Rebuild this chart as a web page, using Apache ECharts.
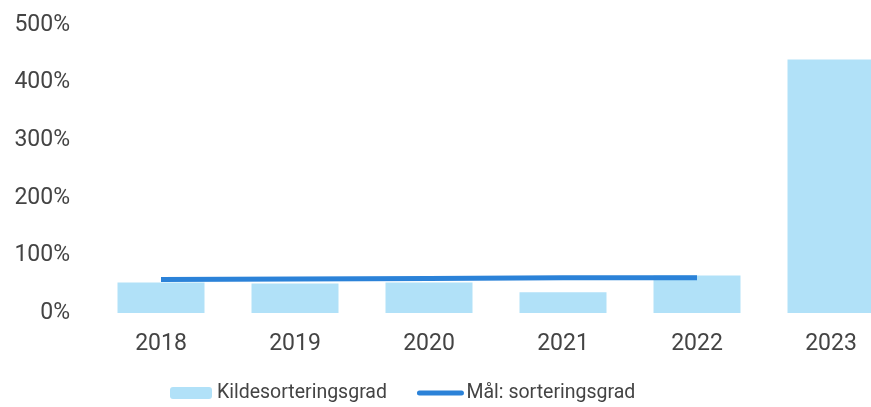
<!DOCTYPE html>
<html>
<head>
<meta charset="utf-8">
<script src="https://cdn.jsdelivr.net/npm/echarts@6/dist/echarts.min.js"></script>
<style>
  html, body { margin: 0; padding: 0; background: #fff; }
  #chart { width: 871px; height: 407px; }
</style>
</head>
<body>
<div id="chart"></div>
<script>
// data
var years = ['2018', '2019', '2020', '2021', '2022', '2023'];
var kildesortering = [53, 51, 53, 36, 65, 440];
var maal = [58, 59, 60, 61, 61, null];
var yTicks = [0, 100, 200, 300, 400, 500];

var chart = echarts.init(document.getElementById('chart'), null, {
  renderer: 'canvas'
});

var option = {
  animation: false,
  textStyle: { fontFamily: 'Roboto' },
  // plot runs past the right edge, the 2023 bar is cut in the original
  grid: {
    top: 25,
    left: 94,
    width: 804,
    bottom: 94,
    outerBoundsMode: 'none'
  },
  legend: {
    left: 165,
    top: 378,
    itemWidth: 42,
    itemHeight: 12,
    itemGap: 30,
    textStyle: { fontSize: 19.5, color: '#444', fontFamily: 'Roboto' },
    data: [
      { name: 'Kildesorteringsgrad' },
      {
        name: 'Mål: sorteringsgrad',
        itemStyle: { opacity: 0 },
        lineStyle: { width: 5, cap: 'round' }
      }
    ]
  },
  xAxis: {
    type: 'category',
    data: years,
    axisLine: { show: false },
    axisTick: { show: false },
    axisLabel: { fontSize: 23, color: '#444', margin: 20 }
  },
  yAxis: {
    type: 'value',
    min: yTicks[0],
    max: yTicks[yTicks.length - 1],
    interval: 100,
    splitLine: { show: false },
    axisLine: { show: false },
    axisLabel: {
      fontSize: 23,
      color: '#444',
      margin: 24,
      formatter: '{value}%'
    }
  },
  series: [
    {
      name: 'Kildesorteringsgrad',
      type: 'bar',
      barWidth: 87,
      itemStyle: { color: '#b1e1f8' },
      data: kildesortering
    },
    {
      name: 'Mål: sorteringsgrad',
      type: 'line',
      symbol: 'none',
      lineStyle: { color: '#2b82d8', width: 5 },
      itemStyle: { color: '#2b82d8' },
      data: maal
    }
  ]
};

chart.setOption(option);
</script>
</body>
</html>
